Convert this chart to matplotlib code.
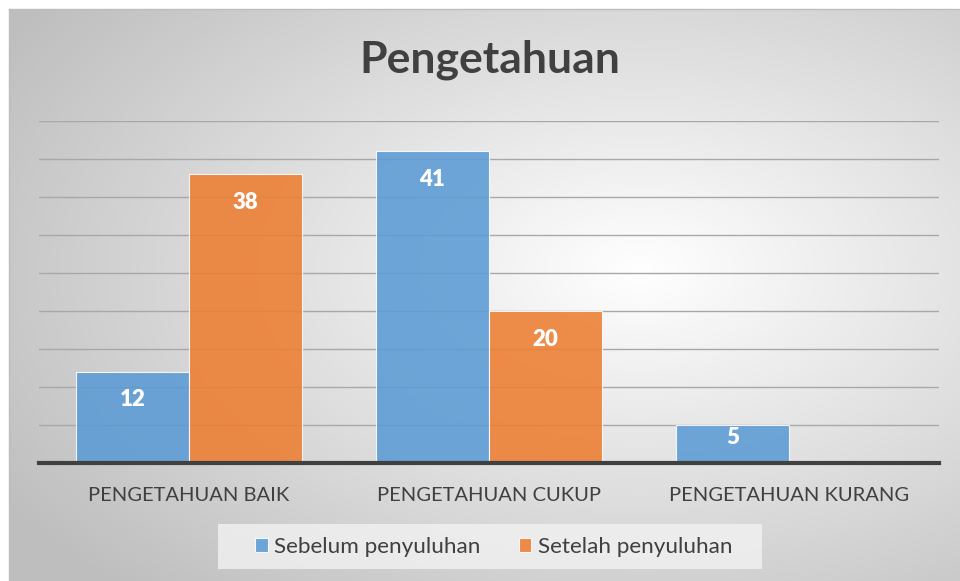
import numpy as np
import matplotlib.pyplot as plt
from matplotlib.patches import Rectangle

# Data
categories = ['PENGETAHUAN BAIK', 'PENGETAHUAN CUKUP', 'PENGETAHUAN KURANG']
series_names = ['Sebelum penyuluhan', 'Setelah penyuluhan']
sebelum = [12, 41, 5]
setelah = [38, 20, 0]

blue = '#5B9BD5'
orange = '#ED7D31'
text_col = '#404040'
font = 'Lato'

W, H = 960, 581
fig = plt.figure(figsize=(W / 100, H / 100), dpi=100)
fig.patch.set_facecolor('white')

# radial gradient background panel
bg = fig.add_axes([0, 0, 1, 1], zorder=-10)
yy, xx = np.mgrid[0:H, 0:W]
d = np.sqrt(((xx - 640) / 680.0) ** 2 + ((yy - 270) / 400.0) ** 2)
g = 1 - 0.23 * np.clip(d, 0, 1.1)
img = np.dstack([g, g, g])
img[:9, :, :] = 1.0
img[:, :9, :] = 1.0
bg.imshow(img, extent=[0, W, H, 0], aspect='auto', interpolation='bilinear')
bg.plot([9, 9], [9, H], color='#bdbdbd', lw=1)
bg.plot([9, W], [9, 9], color='#bdbdbd', lw=1)
# legend box
bg.add_patch(Rectangle((218, 524), 544, 45, facecolor='#f2f2f2',
                       edgecolor='none', alpha=0.8))
bg.set_xlim(0, W)
bg.set_ylim(H, 0)
bg.axis('off')

ax = fig.add_axes([39 / W, 1 - 463 / H, 900 / W, (463 - 121) / H])
ax.set_facecolor('none')

x = np.arange(len(categories))
w = 0.377
b1 = ax.bar(x - w / 2, sebelum, w, color=blue, alpha=0.88,
            edgecolor='white', linewidth=0.8, label=series_names[0], zorder=3)
b2 = ax.bar(x + w / 2, setelah, w, color=orange, alpha=0.88,
            edgecolor='white', linewidth=0.8, label=series_names[1], zorder=3)

for bars, vals in [(b1, sebelum), (b2, setelah)]:
    for rect, v in zip(bars, vals):
        if v == 0:
            continue
        ypos = v - min(3.7, 0.32 * v)
        ax.text(rect.get_x() + rect.get_width() / 2, ypos, str(v),
                ha='center', va='center', color='white', fontsize=16,
                fontweight='heavy', family=font, zorder=5)

ax.set_xlim(-0.5, 2.5)
ax.set_ylim(0, 45)
ax.set_yticks(np.arange(5, 46, 5))
ax.yaxis.grid(True, color='#a8a8a8', lw=1)
ax.set_axisbelow(True)
ax.tick_params(axis='y', left=False, labelleft=False)
ax.tick_params(axis='x', bottom=False, pad=14)
ax.set_xticks(x)
ax.set_xticklabels(categories, fontsize=14.5, color=text_col, family=font)
for s in ['top', 'right', 'left']:
    ax.spines[s].set_visible(False)
ax.spines['bottom'].set_color('#404040')
ax.spines['bottom'].set_linewidth(3)
ax.spines['bottom'].set_zorder(6)

fig.text(490 / W, 1 - 60 / H, 'Pengetahuan', ha='center', va='center',
         fontsize=32, fontweight='bold', color=text_col, family=font)

leg = fig.legend(loc='center', bbox_to_anchor=(494 / W, 1 - 547 / H), ncol=2,
                 frameon=False, handlelength=0.55, handleheight=0.55,
                 handletextpad=0.3, columnspacing=1.7, borderpad=0,
                 borderaxespad=0, prop={'family': font, 'size': 16.2})
for t in leg.get_texts():
    t.set_color(text_col)

fig.savefig('out.png', dpi=100)
